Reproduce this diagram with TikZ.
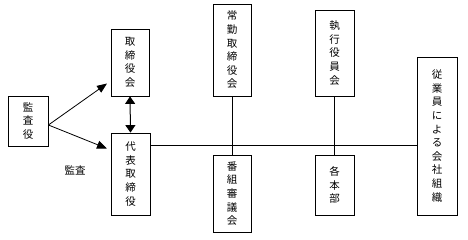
\documentclass[tikz,border=0pt]{standalone}
\usepackage{fontspec}
\newfontfamily\cjk{Noto Sans CJK JP}
\usetikzlibrary{arrows.meta}
\begin{document}
\begin{tikzpicture}[x=1pt,y=-1pt,
  box/.style={draw, line width=0.8pt, align=center, inner sep=0pt,
    font=\cjk\fontsize{10.5}{13.6}\selectfont},
  conn/.style={line width=0.8pt},
  arr/.style={line width=0.8pt, -{Triangle[width=8pt,length=10pt]}},
  darr/.style={line width=1pt, {Triangle[width=10pt,length=7.5pt]}-{Triangle[width=10pt,length=7.5pt]}},
  lbl/.style={font=\cjk\fontsize{10.5}{12}\selectfont, inner sep=0pt}]
\useasboundingbox (0,0) rectangle (468,239);
\node[box, minimum width=40pt, minimum height=50pt] (kansa) at (28,121) {監\\査\\役};
\node[box, minimum width=38pt, minimum height=67pt] (tori) at (130,62.5) {取\\締\\役\\会};
\node[box, minimum width=39pt, minimum height=82pt] (daihyo) at (130.5,174) {代\\表\\取\\締\\役};
\node[box, minimum width=38pt, minimum height=92pt] (joukin) at (232,50) {常\\勤\\取\\締\\役\\会};
\node[box, minimum width=38pt, minimum height=77pt] (bangumi) at (232,193.5) {番\\組\\審\\議\\会};
\node[box, minimum width=39pt, minimum height=86pt] (shikko) at (334.5,53) {執\\行\\役\\員\\会};
\node[box, minimum width=39pt, minimum height=60pt] (honbu) at (334.5,185) {各\\本\\部};
\node[box, minimum width=40pt, minimum height=158pt] (jugyo) at (437,136) {従\\業\\員\\に\\よ\\る\\会\\社\\組\\織};
\node[lbl] (kansalbl) at (75,170) {監査};
\coordinate (src) at (kansa.east |- 0,125);
\coordinate (t1) at (107,83.5);
\coordinate (t2) at (107,148.5);
\draw[arr] (src) -- (t1);
\draw[arr] (src) -- (t2);
\draw[darr] (tori.south) -- (daihyo.north);
\coordinate (hl) at (daihyo.east |- 0,145.3);
\coordinate (hr) at (jugyo.west |- 0,145.3);
\draw[conn] (hl) -- (hr);
\draw[conn] (joukin.south) -- (bangumi.north);
\draw[conn] (shikko.south) -- (honbu.north);
\end{tikzpicture}
\end{document}
